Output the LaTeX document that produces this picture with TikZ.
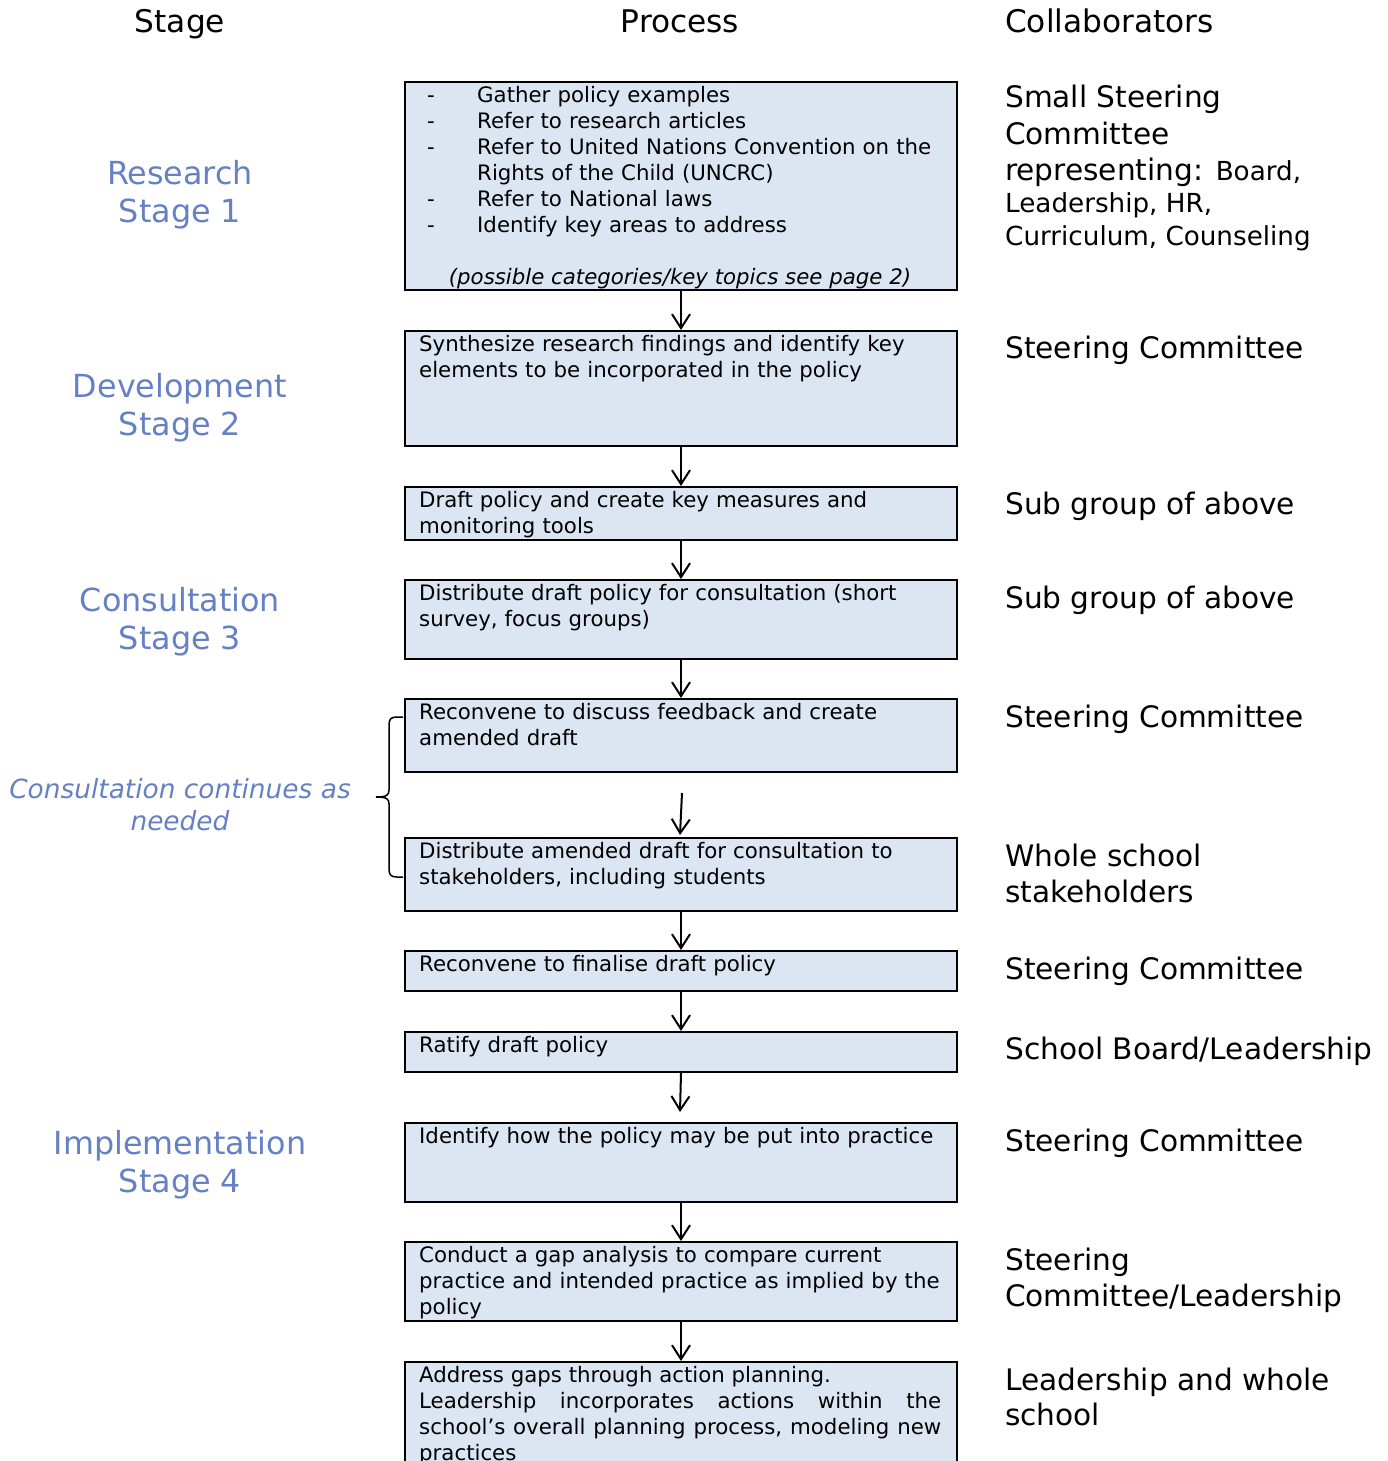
\documentclass[tikz,border=0pt]{standalone}
\usepackage{fontspec}
\setmainfont{DejaVu Sans}
\usetikzlibrary{arrows.meta,calc}
\definecolor{stageblue}{RGB}{102,128,196}
\definecolor{boxfill}{RGB}{220,230,242}
\begin{document}
\begin{tikzpicture}[x=1pt,y=-1pt,
  box/.style={draw=black, line width=2pt, fill=boxfill, anchor=north west, minimum width=552pt, inner sep=0pt},
  btext/.style={anchor=north west, inner sep=0pt, text width=522pt, align=left, font=\fontsize{21.3}{26}\selectfont},
  head/.style={anchor=base, inner sep=0pt, font=\fontsize{31.2}{38}\selectfont},
  stagelbl/.style={anchor=north, inner sep=0pt, align=center, text=stageblue, font=\fontsize{31.8}{38}\selectfont},
  collab/.style={anchor=base west, inner sep=0pt, font=\fontsize{29.6}{36}\selectfont},
  collabsm/.style={anchor=base west, inner sep=0pt, font=\fontsize{26.2}{32}\selectfont},
  flow/.style={line width=2pt, -{Straight Barb[length=14pt,width=18pt,line width=2pt]}},
  bracestyle/.style={line width=1.5pt}
]
\useasboundingbox (0,0) rectangle (1387,1461);

% headers
\node[head] (hstage) at (180,33) {Stage};
\node[head] (hproc) at (680,33) {Process};
\node[head, anchor=base west] (hcol) at (1005,33) {Collaborators};

% boxes
\node[box, minimum height=208pt] (b1) at (404,81) {};
\node[box, minimum height=115pt] (b2) at (404,330) {};
\node[box, minimum height=53pt] (b3) at (404,486) {};
\node[box, minimum height=79pt] (b4) at (404,579) {};
\node[box, minimum height=73pt] (b5) at (404,698) {};
\node[box, minimum height=73pt] (b6) at (404,837) {};
\node[box, minimum height=40pt] (b7) at (404,950) {};
\node[box, minimum height=40pt] (b8) at (404,1031) {};
\node[box, minimum height=79pt] (b9) at (404,1122) {};
\node[box, minimum height=79pt] (b10) at (404,1241) {};
\node[box, minimum height=140pt] (b11) at (404,1361) {};

% box texts
\node[btext, text width=520pt] (t1) at (427,82) {\rule{0pt}{20pt}\makebox[50pt][l]{-}Gather policy examples\\
\makebox[50pt][l]{-}Refer to research articles\\
\makebox[50pt][l]{-}Refer to United Nations Convention on the\\
\hspace*{50pt}Rights of the Child (UNCRC)\\
\makebox[50pt][l]{-}Refer to National laws\\
\makebox[50pt][l]{-}Identify key areas to address};
\node[anchor=base, inner sep=0pt, font=\fontsize{21.3}{26}\selectfont\itshape] (t1b) at (680,284) {(possible categories/key topics see page 2)};
\node[btext] (t2) at ($(b2.north west)+(15,1)$) {\rule{0pt}{20pt}Synthesize research findings and identify key\\elements to be incorporated in the policy};
\node[btext] (t3) at ($(b3.north west)+(15,1)$) {\rule{0pt}{20pt}Draft policy and create key measures and\\monitoring tools};
\node[btext] (t4) at ($(b4.north west)+(15,1)$) {\rule{0pt}{20pt}Distribute draft policy for consultation (short\\survey, focus groups)};
\node[btext] (t5) at ($(b5.north west)+(15,1)$) {\rule{0pt}{20pt}Reconvene to discuss feedback and create\\amended draft};
\node[btext] (t6) at ($(b6.north west)+(15,1)$) {\rule{0pt}{20pt}Distribute amended draft for consultation to\\stakeholders, including students};
\node[btext] (t7) at ($(b7.north west)+(15,1)$) {\rule{0pt}{20pt}Reconvene to finalise draft policy};
\node[btext] (t8) at ($(b8.north west)+(15,1)$) {\rule{0pt}{20pt}Ratify draft policy};
\node[btext] (t9) at ($(b9.north west)+(15,1)$) {\rule{0pt}{20pt}Identify how the policy may be put into practice};
\node[btext] (t10) at ($(b10.north west)+(15,1)$) {\rule{0pt}{20pt}Conduct a gap analysis to compare current\\practice and intended practice as implied by the\\policy};
\node[btext, align=justify] (t11) at ($(b11.north west)+(15,1)$) {\rule{0pt}{20pt}Address gaps through action planning.\\Leadership incorporates actions within the\linebreak school’s overall planning process, modeling new\linebreak practices};

% arrows
\coordinate (a5s) at (682,793);
\coordinate (a5e) at (680,835);
\coordinate (a8e) at (680,1112);
\draw[flow] (b1.south) -- (b2.north);
\draw[flow] (b2.south) -- (b3.north);
\draw[flow] (b3.south) -- (b4.north);
\draw[flow] (b4.south) -- (b5.north);
\draw[flow] (a5s) -- (a5e);
\draw[flow] (b6.south) -- (b7.north);
\draw[flow] (b7.south) -- (b8.north);
\draw[flow] (b8.south) -- (a8e);
\draw[flow] (b9.south) -- (b10.north);
\draw[flow] (b10.south) -- (b11.north);

% stage labels
\node[stagelbl] (s1) at (180,159) {\rule{0pt}{25pt}Research\\Stage 1};
\node[stagelbl] (s2) at (180,372) {\rule{0pt}{25pt}Development\\Stage 2};
\node[stagelbl] (s3) at (180,586) {\rule{0pt}{25pt}Consultation\\Stage 3};
\node[stagelbl] (s4) at (180,1129) {\rule{0pt}{25pt}Implementation\\Stage 4};
\node[stagelbl, font=\fontsize{26.4}{32}\selectfont\itshape] (sc) at (180,777) {\rule{0pt}{21pt}Consultation continues as\\needed};

% brace
\draw[bracestyle] (403,717) -- (397,717) .. controls (391,717) and (389,719) .. (389,725) -- (389,790) .. controls (389,795) and (387,797) .. (376,797);
\draw[bracestyle] (376,797) .. controls (387,797) and (389,799) .. (389,804) -- (389,869) .. controls (389,875) and (391,877) .. (397,877) -- (403,877);

% collaborators
\node[collab] (c1a) at (1005,108) {Small Steering};
\node[collab] (c1b) at (1005,145) {Committee};
\node[collab] (c1c) at (1005,180) {representing: {\fontsize{26.2}{32}\selectfont Board,}};
\node[collabsm] (c1d) at (1005,212) {Leadership, HR,};
\node[collabsm] (c1e) at (1005,245) {Curriculum, Counseling};
\node[collab] (c2) at (1005,358) {Steering Committee};
\node[collab] (c3) at (1005,514) {Sub group of above};
\node[collab] (c4) at (1005,608) {Sub group of above};
\node[collab] (c5) at (1005,727) {Steering Committee};
\node[collab] (c6a) at (1005,866) {Whole school};
\node[collab] (c6b) at (1005,902) {stakeholders};
\node[collab] (c7) at (1005,979) {Steering Committee};
\node[collab] (c8) at (1005,1059) {School Board/Leadership};
\node[collab] (c9) at (1005,1151) {Steering Committee};
\node[collab] (c10a) at (1005,1270) {Steering};
\node[collab] (c10b) at (1005,1306) {Committee/Leadership};
\node[collab] (c11a) at (1005,1390) {Leadership and whole};
\node[collab] (c11b) at (1005,1425) {school};
\end{tikzpicture}
\end{document}
